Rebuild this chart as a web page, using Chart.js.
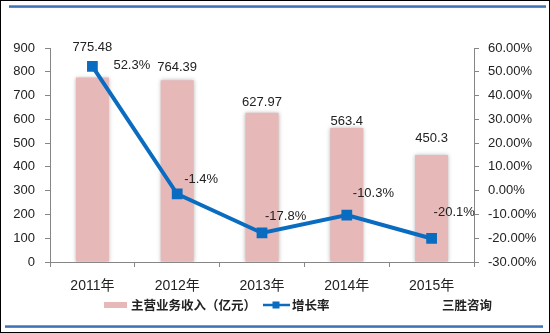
<!DOCTYPE html>
<html>
<head>
<meta charset="utf-8">
<script src="https://cdn.jsdelivr.net/npm/chart.js@4.4.1/dist/chart.umd.min.js"></script>
<style>
  html, body { margin: 0; padding: 0; background: #fff; }
  #wrap { position: relative; width: 550px; height: 333px; overflow: hidden; background: #fff; }
  #frame { position: absolute; left: 0; top: 0; width: 548px; height: 331px; border: 1px solid #000; pointer-events: none; }
  .rule { position: absolute; height: 3px; pointer-events: none;
          background: linear-gradient(to bottom, #8fb0d8 0%, #3f72b4 50%, #6f96c8 100%); }
  canvas { position: absolute; left: 0; top: 0; }
</style>
</head>
<body>
<div id="wrap">
  <canvas id="chart" width="550" height="333"></canvas>
  <div class="rule" style="left:9px;top:5px;width:537px;"></div>
  <div class="rule" style="left:5px;top:325px;width:538px;"></div>
  <div id="frame"></div>
</div>
<script>
// Categories and series
const years = ['2011年', '2012年', '2013年', '2014年', '2015年'];
const revenue = [775.48, 764.39, 627.97, 563.4, 450.3];      // 主营业务收入（亿元）
const growthRate = [52.3, -1.4, -17.8, -10.3, -20.1];         // 增长率 (%)
const revenueLabels = ['775.48', '764.39', '627.97', '563.4', '450.3'];
const growthLabels = ['52.3%', '-1.4%', '-17.8%', '-10.3%', '-20.1%'];
const seriesNames = ['主营业务收入（亿元）', '增长率'];
const sourceText = '三胜咨询';

const BAR_COLOR = '#e6b8b7';
const LINE_COLOR = '#0a6cc0';
const AXIS_COLOR = '#868686';
const TEXT_COLOR = '#222222';
const NUM_FONT = '"Liberation Sans", "Noto Sans CJK SC", sans-serif';
const CJK_FONT = '"Noto Sans CJK SC", "Liberation Sans", sans-serif';

// soft shadow behind the columns
const barShadow = {
  id: 'barShadow',
  beforeDatasetDraw(chart, args) {
    if (args.index !== 0) return;
    const ctx = chart.ctx;
    ctx.save();
    ctx.shadowColor = 'rgba(0,0,0,0.28)';
    ctx.shadowBlur = 4;
  },
  afterDatasetDraw(chart, args) {
    if (args.index !== 0) return;
    chart.ctx.restore();
  }
};

// value labels for both series
const valueLabels = {
  id: 'valueLabels',
  afterDatasetsDraw(chart, args, opts) {
    const ctx = chart.ctx;
    ctx.save();
    ctx.font = '13px ' + NUM_FONT;
    ctx.fillStyle = TEXT_COLOR;
    ctx.textBaseline = 'middle';

    const bars = chart.getDatasetMeta(0).data;
    ctx.textAlign = 'center';
    bars.forEach((bar, i) => {
      ctx.fillText(revenueLabels[i], bar.x, bar.y + opts.barDy[i]);
    });

    const pts = chart.getDatasetMeta(1).data;
    ctx.textAlign = 'left';
    pts.forEach((p, i) => {
      ctx.fillText(growthLabels[i], p.x + opts.lineDx[i], p.y + opts.lineDy[i]);
    });
    ctx.restore();
  }
};

// legend row and source note
const legendRow = {
  id: 'legendRow',
  afterDraw(chart) {
    const ctx = chart.ctx;
    const y = 305;
    ctx.save();
    ctx.font = 'bold 12.5px ' + CJK_FONT;
    ctx.fillStyle = TEXT_COLOR;
    ctx.textBaseline = 'middle';
    ctx.textAlign = 'left';

    // column series key
    ctx.fillStyle = BAR_COLOR;
    ctx.fillRect(104, y - 3, 23, 6);
    ctx.fillStyle = TEXT_COLOR;
    ctx.fillText(seriesNames[0], 131, y);

    // line series key
    ctx.strokeStyle = LINE_COLOR;
    ctx.lineWidth = 2.5;
    ctx.beginPath();
    ctx.moveTo(263, y);
    ctx.lineTo(290, y);
    ctx.stroke();
    ctx.fillStyle = LINE_COLOR;
    ctx.fillRect(272.5, y - 3.5, 7, 7);
    ctx.fillStyle = TEXT_COLOR;
    ctx.fillText(seriesNames[1], 292, y);

    ctx.fillText(sourceText, 442, y);
    ctx.restore();
  }
};

new Chart(document.getElementById('chart'), {
  data: {
    labels: years,
    datasets: [
      {
        type: 'bar',
        label: seriesNames[0],
        data: revenue,
        yAxisID: 'y',
        backgroundColor: BAR_COLOR,
        borderWidth: 0,
        categoryPercentage: 1,
        barPercentage: 0.39,
        order: 2
      },
      {
        type: 'line',
        label: seriesNames[1],
        data: growthRate,
        yAxisID: 'y1',
        borderColor: LINE_COLOR,
        backgroundColor: LINE_COLOR,
        borderWidth: 4,
        tension: 0,
        pointStyle: 'rect',
        pointRadius: 7.6,
        pointBorderWidth: 0,
        pointBackgroundColor: LINE_COLOR,
        order: 1
      }
    ]
  },
  options: {
    responsive: false,
    animation: false,
    events: [],
    layout: { padding: { top: 48, left: 0, right: 0, bottom: 0 } },
    plugins: {
      legend: { display: false },
      tooltip: { enabled: false },
      valueLabels: {
        barDy: [-30, -13, -10, -7, -17],
        lineDx: [21, 7, 3, 6, 2],
        lineDy: [-1, -15, -17, -22, -26]
      }
    },
    scales: {
      x: {
        offset: true,
        grid: { display: true, offset: true, drawOnChartArea: false, drawTicks: true, tickLength: 5, color: AXIS_COLOR },
        border: { display: true, color: AXIS_COLOR, width: 1 },
        ticks: { color: TEXT_COLOR, font: { family: NUM_FONT, size: 14 }, padding: 11, maxRotation: 0 },
        afterFit(scale) { scale.height = 71; }
      },
      y: {
        position: 'left',
        min: 0,
        max: 900,
        ticks: { stepSize: 100, color: TEXT_COLOR, font: { family: NUM_FONT, size: 13 }, padding: 10 },
        grid: { display: true, drawOnChartArea: false, drawTicks: true, tickLength: 5, color: AXIS_COLOR },
        border: { display: true, color: AXIS_COLOR, width: 1 },
        afterFit(scale) { scale.width = 50; }
      },
      y1: {
        position: 'right',
        min: -30,
        max: 60,
        ticks: {
          stepSize: 10,
          color: TEXT_COLOR,
          font: { family: NUM_FONT, size: 13 },
          padding: 9,
          callback: v => v.toFixed(2) + '%'
        },
        grid: { display: true, drawOnChartArea: false, drawTicks: true, tickLength: 5, color: AXIS_COLOR },
        border: { display: true, color: AXIS_COLOR, width: 1 },
        afterFit(scale) { scale.width = 76; }
      }
    }
  },
  plugins: [barShadow, valueLabels, legendRow]
});
</script>
</body>
</html>
